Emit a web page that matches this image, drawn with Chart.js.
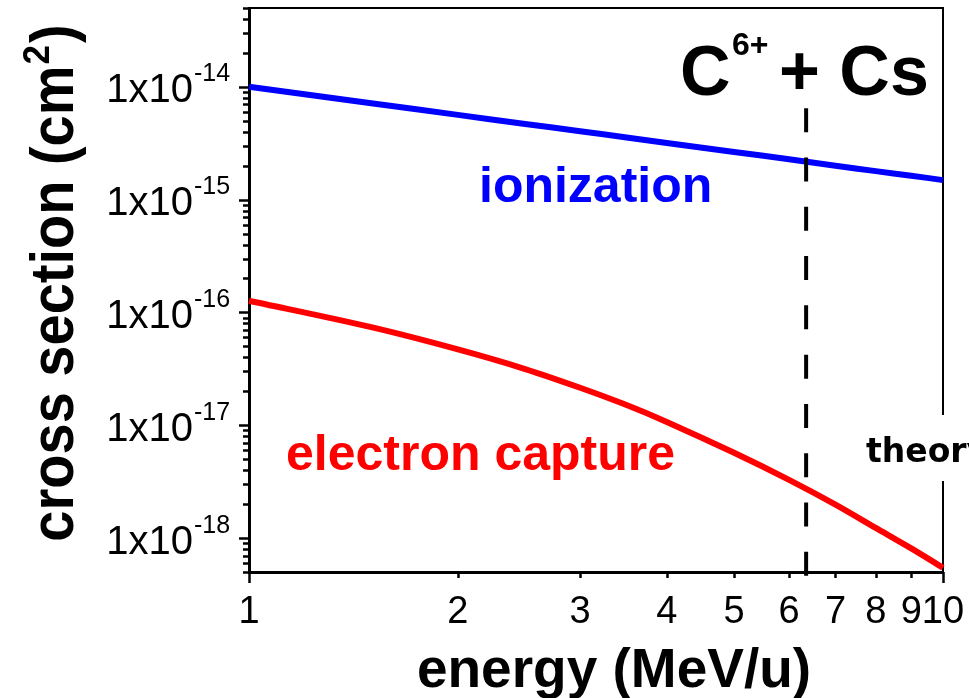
<!DOCTYPE html>
<html>
<head>
<meta charset="utf-8">
<script src="https://cdn.jsdelivr.net/npm/chart.js@4.4.1/dist/chart.umd.min.js"></script>
<style>
html,body{margin:0;padding:0;background:#ffffff;}
#wrap{width:969px;height:698px;position:relative;}
</style>
</head>
<body>
<div id="wrap"><canvas id="c"></canvas></div>
<script>
// ---- data ----
const energies = [1, 1.5, 2, 2.5, 3, 3.5, 4, 5, 6, 7, 8, 9, 10];            // MeV/u
const ionization = [1.00e-14, 7.15e-15, 5.64e-15, 4.69e-15, 4.04e-15, 3.56e-15, 3.18e-15,
                    2.65e-15, 2.28e-15, 2.00e-15, 1.79e-15, 1.63e-15, 1.49e-15];   // cm^2
const electronCapture = [1.27e-16, 7.4e-17, 4.7e-17, 3.15e-17, 2.15e-17, 1.51e-17, 1.07e-17,
                         5.7e-18, 3.28e-18, 1.98e-18, 1.23e-18, 8.1e-19, 5.46e-19]; // cm^2
const markerEnergy = 6.35;
const markerSpan = [6.47e-15, 4.6e-19];
const xRange = [1, 10];
const yRange = [5e-19, 5e-14];
const xTickValues = [1, 2, 3, 4, 5, 6, 7, 8, 9, 10];
const xTickLabels = ['1', '2', '3', '4', '5', '6', '7', '8', '9', '10'];
const yTickExponents = [-18, -17, -16, -15, -14];
const yTickBase = '1x10';
const yTickExpLabels = ['-18', '-17', '-16', '-15', '-14'];
const seriesNames = ['ionization', 'electron capture'];

const FONT = '"Liberation Sans", Arial, Helvetica, sans-serif';

const framePlugin = {
  id: 'frame',
  beforeDatasetsDraw(chart) {
    const { ctx, chartArea: a, scales: { x, y } } = chart;
    ctx.save();
    ctx.strokeStyle = '#000';
    ctx.lineWidth = 2;
    ctx.beginPath();
    ctx.moveTo(a.left, a.top);
    ctx.lineTo(a.right, a.top);
    ctx.lineTo(a.right, a.bottom);
    ctx.stroke();
    ctx.lineWidth = 2.5;
    const eLo = Math.floor(Math.log10(yRange[0]) + 1e-9), eHi = Math.floor(Math.log10(yRange[1]) + 1e-9);
    for (let e = eLo; e <= eHi; e++) {
      for (let k = 1; k <= 9; k++) {
        const v = k * Math.pow(10, e);
        if (v < yRange[0] * 0.999 || v > yRange[1] * 1.001) continue;
        const py = Math.round(y.getPixelForValue(v)) + 0.5;
        const len = k === 1 ? 10 : 6;
        ctx.beginPath(); ctx.moveTo(a.left, py); ctx.lineTo(a.left - len, py); ctx.stroke();
      }
    }
    for (const v of xTickValues) {
      const px = Math.round(x.getPixelForValue(v)) + 0.5;
      const len = (v === xRange[0] || v === xRange[1]) ? 11 : 6;
      ctx.beginPath(); ctx.moveTo(px, a.bottom); ctx.lineTo(px, a.bottom + len); ctx.stroke();
    }
    ctx.restore();
  },
  afterDraw(chart) {
    const { ctx, chartArea: a, scales: { x, y } } = chart;
    ctx.save();
    ctx.fillStyle = '#000';
    // y tick labels with superscript exponents
    yTickExponents.forEach((e, i) => {
      const py = y.getPixelForValue(Math.pow(10, e));
      ctx.font = '40px ' + FONT;
      ctx.textAlign = 'right'; ctx.textBaseline = 'alphabetic';
      ctx.fillText(yTickBase, a.left - 56, py + 15.5);
      ctx.font = '25px ' + FONT;
      ctx.textAlign = 'left';
      ctx.fillText(yTickExpLabels[i], a.left - 55, py - 5.5);
    });
    // x tick labels
    ctx.font = '38px ' + FONT;
    ctx.textAlign = 'center'; ctx.textBaseline = 'alphabetic';
    xTickValues.forEach((v, i) => {
      ctx.fillText(xTickLabels[i], x.getPixelForValue(v), a.bottom + 51);
    });
    // x title
    ctx.font = 'bold 55px ' + FONT;
    ctx.textAlign = 'center';
    ctx.fillText('energy (MeV/u)', 614, 687);
    // y title (rotated, with superscript 2)
    ctx.save();
    ctx.translate(73, 283);
    ctx.rotate(-Math.PI / 2);
    ctx.scale(1, 1.08);
    ctx.textAlign = 'left';
    const p1 = 'cross section (cm', p2 = '2', p3 = ')';
    ctx.font = 'bold 56px ' + FONT; const w1 = ctx.measureText(p1).width, w3 = ctx.measureText(p3).width;
    ctx.font = 'bold 35px ' + FONT; const w2 = ctx.measureText(p2).width;
    let sx = -(w1 + w2 + w3 + 3) / 2;
    ctx.font = 'bold 56px ' + FONT; ctx.fillText(p1, sx, 0); sx += w1;
    ctx.font = 'bold 35px ' + FONT; ctx.fillText(p2, sx + 1, -22); sx += w2 + 3;
    ctx.font = 'bold 56px ' + FONT; ctx.fillText(p3, sx, 0);
    ctx.restore();
    // title  C^6+ + Cs
    ctx.textAlign = 'left';
    ctx.font = 'bold 70px ' + FONT;
    ctx.fillText('C', 680, 95);
    ctx.font = 'bold 32px ' + FONT;
    ctx.fillText('6+', 732, 55);
    ctx.font = 'bold 70px ' + FONT;
    ctx.fillText('+ Cs', 779, 95);
    // series labels
    ctx.font = 'bold 50px ' + FONT;
    ctx.fillStyle = '#0000ff';
    ctx.fillText(seriesNames[0], 479, 202);
    ctx.fillStyle = '#ff0000';
    ctx.fillText(seriesNames[1], 286, 470);
    // "theory" note on white background (cut by the page edge)
    ctx.fillStyle = '#ffffff';
    ctx.fillRect(858, 415, 111, 66);
    ctx.fillStyle = '#000';
    ctx.font = 'bold 33px "DejaVu Sans", sans-serif';
    ctx.fillText('theory', 866, 462);
    ctx.restore();
  }
};

const toPoints = (xs, ys) => xs.map((v, i) => ({ x: v, y: ys[i] }));

new Chart(document.getElementById('c'), {
  type: 'line',
  data: {
    datasets: [
      {
        label: 'marker',
        data: [{ x: markerEnergy, y: markerSpan[0] }, { x: markerEnergy, y: markerSpan[1] }],
        borderColor: '#000000', borderWidth: 4, borderDash: [24, 25.3],
        pointRadius: 0, clip: false, order: 0
      },
      {
        label: seriesNames[0],
        data: toPoints(energies, ionization),
        borderColor: '#0000ff', borderWidth: 6, pointRadius: 0,
        tension: 0.3, fill: false, order: 1, clip: 4
      },
      {
        label: seriesNames[1],
        data: toPoints(energies, electronCapture),
        borderColor: '#ff0000', borderWidth: 6, pointRadius: 0,
        tension: 0.3, fill: false, order: 2, clip: 4
      }
    ]
  },
  options: {
    responsive: true,
    maintainAspectRatio: false,
    animation: false,
    layout: { padding: { left: 0, right: 26, top: 8, bottom: 0 } },
    plugins: { legend: { display: false }, tooltip: { enabled: false } },
    scales: {
      x: {
        type: 'logarithmic', min: xRange[0], max: xRange[1], position: 'bottom',
        ticks: { display: false },
        grid: { display: false, drawTicks: false },
        border: { display: true, color: '#000', width: 3 },
        afterFit(s) { s.height = 126; }
      },
      y: {
        type: 'logarithmic', min: yRange[0], max: yRange[1], position: 'left',
        ticks: { display: false },
        grid: { display: false, drawTicks: false },
        border: { display: true, color: '#000', width: 3 },
        afterFit(s) { s.width = 249; }
      }
    }
  },
  plugins: [framePlugin]
});
</script>
</body>
</html>
